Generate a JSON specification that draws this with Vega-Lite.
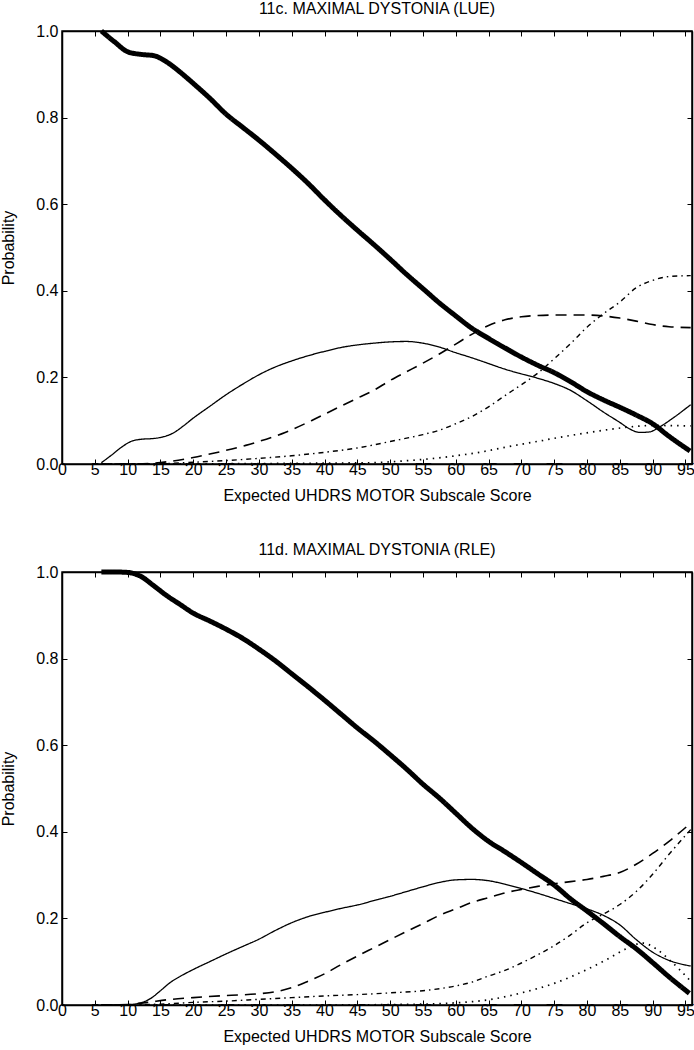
{
  "$schema": "https://vega.github.io/schema/vega-lite/v6.json",
  "padding": {"left": 0, "top": 0, "right": 2, "bottom": 0},
  "spacing": 37,
  "config": {
    "font": "Liberation Sans",
    "view": {"stroke": "black", "strokeWidth": 1.5},
    "axis": {
      "grid": false,
      "tickSize": -5,
      "tickColor": "black",
      "tickWidth": 1,
      "domainColor": "black",
      "domainWidth": 1.5,
      "labelColor": "black",
      "labelFont": "Liberation Sans",
      "labelFontSize": 16,
      "titleFont": "Liberation Sans",
      "titleFontSize": 16,
      "titleFontWeight": "normal",
      "titleColor": "black",
      "labelFlush": false,
      "labelOverlap": false
    },
    "title": {"font": "Liberation Sans", "fontSize": 16, "fontWeight": "normal", "color": "black", "offset": 4}
  },
  "datasets": {
    "lue": [
      {"x":6,"p":1.0,"s":"0"},{"x":8,"p":0.975,"s":"0"},{"x":10,"p":0.952,"s":"0"},{"x":12,"p":0.946,"s":"0"},{"x":14,"p":0.943,"s":"0"},{"x":16,"p":0.928,"s":"0"},{"x":18,"p":0.905,"s":"0"},{"x":20,"p":0.879,"s":"0"},{"x":22.5,"p":0.845,"s":"0"},{"x":25,"p":0.808,"s":"0"},{"x":27.5,"p":0.778,"s":"0"},{"x":30,"p":0.748,"s":"0"},{"x":32.5,"p":0.716,"s":"0"},{"x":35,"p":0.683,"s":"0"},{"x":37.5,"p":0.648,"s":"0"},{"x":40,"p":0.61,"s":"0"},{"x":42.5,"p":0.574,"s":"0"},{"x":45,"p":0.54,"s":"0"},{"x":47.5,"p":0.507,"s":"0"},{"x":50,"p":0.473,"s":"0"},{"x":52.5,"p":0.438,"s":"0"},{"x":55,"p":0.405,"s":"0"},{"x":57.5,"p":0.372,"s":"0"},{"x":60,"p":0.342,"s":"0"},{"x":62.5,"p":0.313,"s":"0"},{"x":65,"p":0.29,"s":"0"},{"x":67.5,"p":0.268,"s":"0"},{"x":70,"p":0.247,"s":"0"},{"x":72.5,"p":0.228,"s":"0"},{"x":75,"p":0.211,"s":"0"},{"x":77.5,"p":0.19,"s":"0"},{"x":80,"p":0.167,"s":"0"},{"x":82.5,"p":0.148,"s":"0"},{"x":85,"p":0.131,"s":"0"},{"x":87.5,"p":0.113,"s":"0"},{"x":90,"p":0.093,"s":"0"},{"x":92.5,"p":0.064,"s":"0"},{"x":95.7,"p":0.03,"s":"0"},
      {"x":6,"p":0.003,"s":"1"},{"x":7.5,"p":0.02,"s":"1"},{"x":9,"p":0.038,"s":"1"},{"x":10.5,"p":0.052,"s":"1"},{"x":12,"p":0.057,"s":"1"},{"x":14,"p":0.059,"s":"1"},{"x":15.5,"p":0.063,"s":"1"},{"x":17,"p":0.072,"s":"1"},{"x":18.5,"p":0.088,"s":"1"},{"x":20,"p":0.106,"s":"1"},{"x":22.5,"p":0.133,"s":"1"},{"x":25,"p":0.16,"s":"1"},{"x":27.5,"p":0.184,"s":"1"},{"x":30,"p":0.206,"s":"1"},{"x":32.5,"p":0.224,"s":"1"},{"x":35,"p":0.238,"s":"1"},{"x":37.5,"p":0.25,"s":"1"},{"x":40,"p":0.26,"s":"1"},{"x":42.5,"p":0.269,"s":"1"},{"x":45,"p":0.275,"s":"1"},{"x":47.5,"p":0.279,"s":"1"},{"x":50,"p":0.282,"s":"1"},{"x":52.5,"p":0.283,"s":"1"},{"x":55,"p":0.279,"s":"1"},{"x":57.5,"p":0.27,"s":"1"},{"x":60,"p":0.257,"s":"1"},{"x":62.5,"p":0.245,"s":"1"},{"x":65,"p":0.232,"s":"1"},{"x":67.5,"p":0.219,"s":"1"},{"x":70,"p":0.208,"s":"1"},{"x":72.5,"p":0.198,"s":"1"},{"x":75,"p":0.186,"s":"1"},{"x":77.5,"p":0.17,"s":"1"},{"x":80,"p":0.146,"s":"1"},{"x":82.5,"p":0.12,"s":"1"},{"x":85,"p":0.096,"s":"1"},{"x":86.5,"p":0.081,"s":"1"},{"x":88,"p":0.073,"s":"1"},{"x":89.5,"p":0.074,"s":"1"},{"x":91,"p":0.085,"s":"1"},{"x":93,"p":0.105,"s":"1"},{"x":95.8,"p":0.137,"s":"1"},
      {"x":6,"p":0.0,"s":"2"},{"x":10,"p":0.0,"s":"2"},{"x":14,"p":0.002,"s":"2"},{"x":16,"p":0.005,"s":"2"},{"x":20,"p":0.015,"s":"2"},{"x":24,"p":0.028,"s":"2"},{"x":28,"p":0.043,"s":"2"},{"x":30,"p":0.052,"s":"2"},{"x":34,"p":0.073,"s":"2"},{"x":38,"p":0.1,"s":"2"},{"x":42,"p":0.13,"s":"2"},{"x":45,"p":0.152,"s":"2"},{"x":47.5,"p":0.17,"s":"2"},{"x":50,"p":0.193,"s":"2"},{"x":52.5,"p":0.213,"s":"2"},{"x":55,"p":0.233,"s":"2"},{"x":57.5,"p":0.254,"s":"2"},{"x":60,"p":0.277,"s":"2"},{"x":62.5,"p":0.3,"s":"2"},{"x":65,"p":0.32,"s":"2"},{"x":67.5,"p":0.333,"s":"2"},{"x":70,"p":0.34,"s":"2"},{"x":72.5,"p":0.343,"s":"2"},{"x":75,"p":0.344,"s":"2"},{"x":80,"p":0.344,"s":"2"},{"x":82.5,"p":0.342,"s":"2"},{"x":85,"p":0.337,"s":"2"},{"x":87.5,"p":0.33,"s":"2"},{"x":90,"p":0.322,"s":"2"},{"x":92.5,"p":0.317,"s":"2"},{"x":95.8,"p":0.315,"s":"2"},
      {"x":6,"p":0.0,"s":"3"},{"x":15,"p":0.001,"s":"3"},{"x":20,"p":0.004,"s":"3"},{"x":25,"p":0.008,"s":"3"},{"x":30,"p":0.013,"s":"3"},{"x":35,"p":0.019,"s":"3"},{"x":40,"p":0.027,"s":"3"},{"x":45,"p":0.037,"s":"3"},{"x":50,"p":0.052,"s":"3"},{"x":55,"p":0.068,"s":"3"},{"x":57.5,"p":0.078,"s":"3"},{"x":60,"p":0.093,"s":"3"},{"x":62.5,"p":0.11,"s":"3"},{"x":65,"p":0.132,"s":"3"},{"x":67.5,"p":0.158,"s":"3"},{"x":70,"p":0.183,"s":"3"},{"x":72.5,"p":0.21,"s":"3"},{"x":75,"p":0.243,"s":"3"},{"x":77.5,"p":0.278,"s":"3"},{"x":80,"p":0.316,"s":"3"},{"x":82.5,"p":0.347,"s":"3"},{"x":85,"p":0.374,"s":"3"},{"x":87.5,"p":0.407,"s":"3"},{"x":90,"p":0.424,"s":"3"},{"x":92.5,"p":0.433,"s":"3"},{"x":95.8,"p":0.435,"s":"3"},
      {"x":6,"p":0.0,"s":"4"},{"x":30,"p":0.001,"s":"4"},{"x":40,"p":0.002,"s":"4"},{"x":47,"p":0.003,"s":"4"},{"x":52,"p":0.007,"s":"4"},{"x":56,"p":0.012,"s":"4"},{"x":60,"p":0.019,"s":"4"},{"x":64,"p":0.028,"s":"4"},{"x":68,"p":0.04,"s":"4"},{"x":72,"p":0.051,"s":"4"},{"x":76,"p":0.062,"s":"4"},{"x":80,"p":0.072,"s":"4"},{"x":84,"p":0.081,"s":"4"},{"x":87.5,"p":0.087,"s":"4"},{"x":90,"p":0.089,"s":"4"},{"x":95.8,"p":0.088,"s":"4"}
    ],
    "rle": [
      {"x":6,"p":1.0,"s":"0"},{"x":8,"p":1.0,"s":"0"},{"x":10,"p":0.999,"s":"0"},{"x":12,"p":0.99,"s":"0"},{"x":14,"p":0.968,"s":"0"},{"x":16,"p":0.945,"s":"0"},{"x":18,"p":0.925,"s":"0"},{"x":20,"p":0.905,"s":"0"},{"x":22.5,"p":0.887,"s":"0"},{"x":25,"p":0.868,"s":"0"},{"x":27.5,"p":0.847,"s":"0"},{"x":30,"p":0.822,"s":"0"},{"x":32.5,"p":0.795,"s":"0"},{"x":35,"p":0.765,"s":"0"},{"x":37.5,"p":0.735,"s":"0"},{"x":40,"p":0.704,"s":"0"},{"x":42.5,"p":0.672,"s":"0"},{"x":45,"p":0.64,"s":"0"},{"x":47.5,"p":0.61,"s":"0"},{"x":50,"p":0.578,"s":"0"},{"x":52.5,"p":0.545,"s":"0"},{"x":55,"p":0.51,"s":"0"},{"x":57.5,"p":0.478,"s":"0"},{"x":60,"p":0.443,"s":"0"},{"x":62.5,"p":0.408,"s":"0"},{"x":65,"p":0.378,"s":"0"},{"x":67.5,"p":0.354,"s":"0"},{"x":70,"p":0.329,"s":"0"},{"x":72.5,"p":0.303,"s":"0"},{"x":75,"p":0.277,"s":"0"},{"x":77.5,"p":0.245,"s":"0"},{"x":80,"p":0.217,"s":"0"},{"x":82.5,"p":0.188,"s":"0"},{"x":85,"p":0.158,"s":"0"},{"x":87.5,"p":0.13,"s":"0"},{"x":90,"p":0.098,"s":"0"},{"x":92.5,"p":0.065,"s":"0"},{"x":95.6,"p":0.027,"s":"0"},
      {"x":6,"p":0.0,"s":"1"},{"x":10,"p":0.001,"s":"1"},{"x":12,"p":0.005,"s":"1"},{"x":13.5,"p":0.015,"s":"1"},{"x":15,"p":0.033,"s":"1"},{"x":16.5,"p":0.052,"s":"1"},{"x":18,"p":0.066,"s":"1"},{"x":20,"p":0.082,"s":"1"},{"x":22.5,"p":0.1,"s":"1"},{"x":25,"p":0.118,"s":"1"},{"x":27.5,"p":0.135,"s":"1"},{"x":30,"p":0.152,"s":"1"},{"x":32.5,"p":0.172,"s":"1"},{"x":35,"p":0.19,"s":"1"},{"x":37.5,"p":0.204,"s":"1"},{"x":40,"p":0.214,"s":"1"},{"x":42.5,"p":0.223,"s":"1"},{"x":45,"p":0.231,"s":"1"},{"x":47.5,"p":0.241,"s":"1"},{"x":50,"p":0.251,"s":"1"},{"x":52.5,"p":0.262,"s":"1"},{"x":55,"p":0.273,"s":"1"},{"x":57.5,"p":0.283,"s":"1"},{"x":60,"p":0.289,"s":"1"},{"x":62.5,"p":0.29,"s":"1"},{"x":65,"p":0.287,"s":"1"},{"x":67.5,"p":0.279,"s":"1"},{"x":70,"p":0.269,"s":"1"},{"x":72.5,"p":0.258,"s":"1"},{"x":75,"p":0.246,"s":"1"},{"x":77.5,"p":0.234,"s":"1"},{"x":80,"p":0.222,"s":"1"},{"x":82.5,"p":0.207,"s":"1"},{"x":85,"p":0.185,"s":"1"},{"x":87.5,"p":0.151,"s":"1"},{"x":90,"p":0.122,"s":"1"},{"x":92.5,"p":0.103,"s":"1"},{"x":95.8,"p":0.09,"s":"1"},
      {"x":6,"p":0.0,"s":"2"},{"x":10,"p":0.001,"s":"2"},{"x":13,"p":0.006,"s":"2"},{"x":16,"p":0.012,"s":"2"},{"x":20,"p":0.017,"s":"2"},{"x":25,"p":0.022,"s":"2"},{"x":30,"p":0.026,"s":"2"},{"x":33,"p":0.032,"s":"2"},{"x":35,"p":0.04,"s":"2"},{"x":37.5,"p":0.055,"s":"2"},{"x":40,"p":0.072,"s":"2"},{"x":42.5,"p":0.093,"s":"2"},{"x":45,"p":0.113,"s":"2"},{"x":47.5,"p":0.132,"s":"2"},{"x":50,"p":0.151,"s":"2"},{"x":52.5,"p":0.17,"s":"2"},{"x":55,"p":0.188,"s":"2"},{"x":57.5,"p":0.207,"s":"2"},{"x":60,"p":0.222,"s":"2"},{"x":62.5,"p":0.237,"s":"2"},{"x":65,"p":0.248,"s":"2"},{"x":67.5,"p":0.259,"s":"2"},{"x":70,"p":0.267,"s":"2"},{"x":72.5,"p":0.274,"s":"2"},{"x":75,"p":0.28,"s":"2"},{"x":77.5,"p":0.285,"s":"2"},{"x":80,"p":0.29,"s":"2"},{"x":82.5,"p":0.297,"s":"2"},{"x":85,"p":0.306,"s":"2"},{"x":87.5,"p":0.325,"s":"2"},{"x":90,"p":0.35,"s":"2"},{"x":92.5,"p":0.378,"s":"2"},{"x":95.8,"p":0.42,"s":"2"},
      {"x":6,"p":0.0,"s":"3"},{"x":15,"p":0.002,"s":"3"},{"x":20,"p":0.006,"s":"3"},{"x":25,"p":0.009,"s":"3"},{"x":30,"p":0.013,"s":"3"},{"x":35,"p":0.017,"s":"3"},{"x":40,"p":0.021,"s":"3"},{"x":45,"p":0.024,"s":"3"},{"x":50,"p":0.028,"s":"3"},{"x":55,"p":0.033,"s":"3"},{"x":60,"p":0.044,"s":"3"},{"x":62.5,"p":0.053,"s":"3"},{"x":65,"p":0.067,"s":"3"},{"x":67.5,"p":0.08,"s":"3"},{"x":70,"p":0.097,"s":"3"},{"x":72.5,"p":0.116,"s":"3"},{"x":75,"p":0.137,"s":"3"},{"x":77.5,"p":0.162,"s":"3"},{"x":80,"p":0.19,"s":"3"},{"x":82.5,"p":0.21,"s":"3"},{"x":85,"p":0.232,"s":"3"},{"x":87.5,"p":0.262,"s":"3"},{"x":90,"p":0.302,"s":"3"},{"x":92.5,"p":0.348,"s":"3"},{"x":95.8,"p":0.405,"s":"3"},
      {"x":6,"p":0.0,"s":"4"},{"x":40,"p":0.0,"s":"4"},{"x":50,"p":0.001,"s":"4"},{"x":55,"p":0.002,"s":"4"},{"x":60,"p":0.005,"s":"4"},{"x":65,"p":0.012,"s":"4"},{"x":70,"p":0.028,"s":"4"},{"x":75,"p":0.05,"s":"4"},{"x":80,"p":0.082,"s":"4"},{"x":83,"p":0.105,"s":"4"},{"x":86,"p":0.13,"s":"4"},{"x":88.5,"p":0.143,"s":"4"},{"x":90.5,"p":0.13,"s":"4"},{"x":92.5,"p":0.105,"s":"4"},{"x":95.8,"p":0.055,"s":"4"}
    ]
  },
  "vconcat": [
    {
      "title": {"text": "11c. MAXIMAL DYSTONIA (LUE)", "fontSize": 16, "fontWeight": "normal", "offset": 4},
      "width": 630,
      "height": 433,
      "data": {"name": "lue"},
      "layer": [
        {
          "mark": {"type": "line", "interpolate": "monotone", "color": "black"},
          "encoding": {
            "x": {"field": "x", "type": "quantitative", "scale": {"domain": [0, 96], "nice": false, "zero": false},
                  "axis": {"orient": "bottom", "values": [0,5,10,15,20,25,30,35,40,45,50,55,60,65,70,75,80,85,90,95], "title": "Expected UHDRS MOTOR Subscale Score", "labelPadding": 2, "titlePadding": 10}},
            "y": {"field": "p", "type": "quantitative", "scale": {"domain": [0, 1], "nice": false},
                  "axis": {"orient": "left", "values": [0,0.2,0.4,0.6,0.8,1.0], "format": ".1f", "title": "Probability", "labelPadding": 9, "titlePadding": 19}},
            "strokeDash": {"field": "s", "type": "nominal", "scale": {"domain": ["0","1","2","3","4"], "range": [[1,0],[1,0],[11,7],[5,4,1.5,4],[1.5,5]]}, "legend": null},
            "strokeWidth": {"field": "s", "type": "nominal", "scale": {"type": "ordinal", "domain": ["0","1","2","3","4"], "range": [5,1.3,1.6,1.4,1.7]}, "legend": null}
          }
        },
        {
          "mark": {"type": "line", "opacity": 0},
          "encoding": {
            "x": {"field": "x", "type": "quantitative", "axis": {"orient": "top", "values": [0,5,10,15,20,25,30,35,40,45,50,55,60,65,70,75,80,85,90,95], "labels": false, "title": null}},
            "y": {"field": "p", "type": "quantitative", "axis": {"orient": "right", "values": [0,0.2,0.4,0.6,0.8,1.0], "labels": false, "title": null}},
            "detail": {"field": "s"}
          }
        }
      ],
      "resolve": {"axis": {"x": "independent", "y": "independent"}}
    },
    {
      "title": {"text": "11d. MAXIMAL DYSTONIA (RLE)", "fontSize": 16, "fontWeight": "normal", "offset": 4},
      "width": 630,
      "height": 433,
      "data": {"name": "rle"},
      "layer": [
        {
          "mark": {"type": "line", "interpolate": "monotone", "color": "black"},
          "encoding": {
            "x": {"field": "x", "type": "quantitative", "scale": {"domain": [0, 96], "nice": false, "zero": false},
                  "axis": {"orient": "bottom", "values": [0,5,10,15,20,25,30,35,40,45,50,55,60,65,70,75,80,85,90,95], "title": "Expected UHDRS MOTOR Subscale Score", "labelPadding": 2, "titlePadding": 10}},
            "y": {"field": "p", "type": "quantitative", "scale": {"domain": [0, 1], "nice": false},
                  "axis": {"orient": "left", "values": [0,0.2,0.4,0.6,0.8,1.0], "format": ".1f", "title": "Probability", "labelPadding": 9, "titlePadding": 19}},
            "strokeDash": {"field": "s", "type": "nominal", "scale": {"domain": ["0","1","2","3","4"], "range": [[1,0],[1,0],[11,7],[5,4,1.5,4],[1.5,5]]}, "legend": null},
            "strokeWidth": {"field": "s", "type": "nominal", "scale": {"type": "ordinal", "domain": ["0","1","2","3","4"], "range": [5,1.3,1.6,1.4,1.7]}, "legend": null}
          }
        },
        {
          "mark": {"type": "line", "opacity": 0},
          "encoding": {
            "x": {"field": "x", "type": "quantitative", "axis": {"orient": "top", "values": [0,5,10,15,20,25,30,35,40,45,50,55,60,65,70,75,80,85,90,95], "labels": false, "title": null}},
            "y": {"field": "p", "type": "quantitative", "axis": {"orient": "right", "values": [0,0.2,0.4,0.6,0.8,1.0], "labels": false, "title": null}},
            "detail": {"field": "s"}
          }
        }
      ],
      "resolve": {"axis": {"x": "independent", "y": "independent"}}
    }
  ]
}
